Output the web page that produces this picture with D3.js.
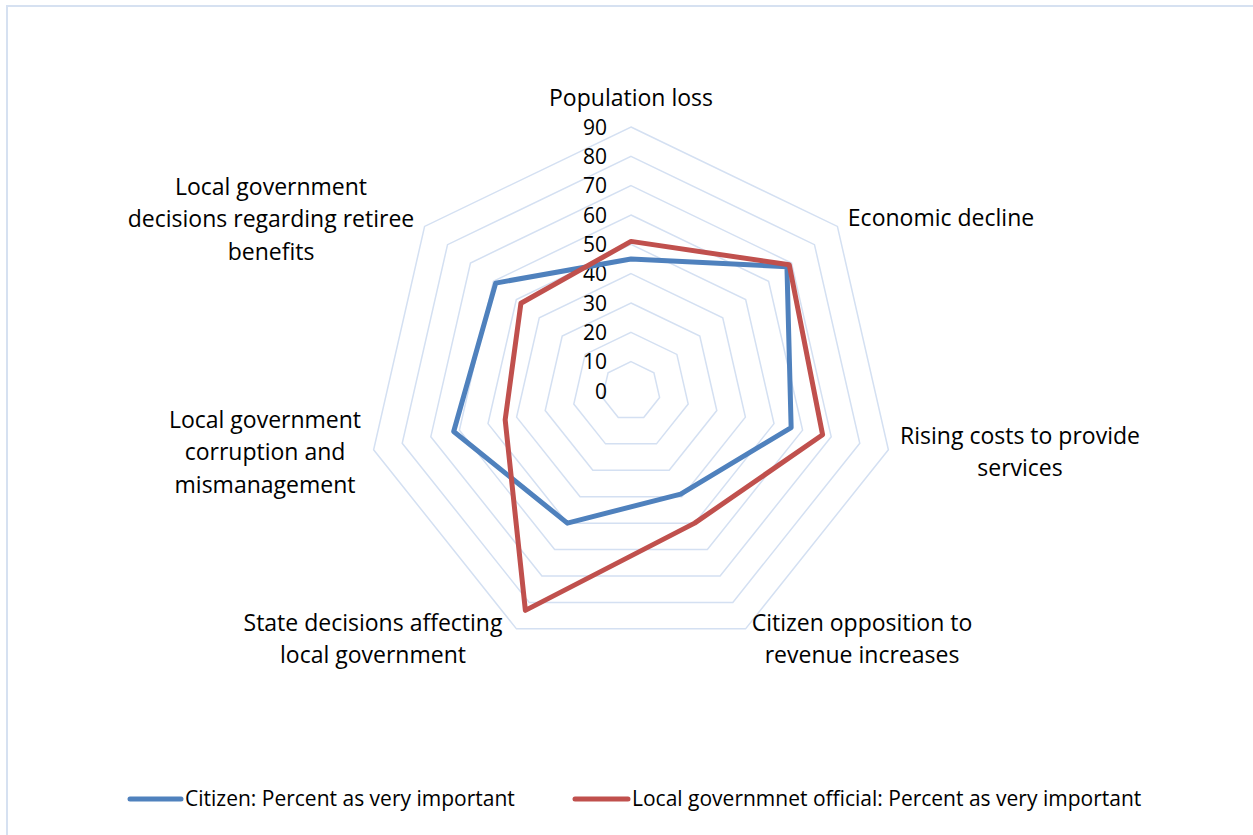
<!DOCTYPE html>
<html>
<head>
<meta charset="utf-8">
<script src="https://cdn.jsdelivr.net/npm/d3@7"></script>
<style>
  html, body { margin: 0; padding: 0; background: #fff; }
  svg { display: block; }
  text { font-family: "Open Sans", Lato, sans-serif; fill: #000; }
</style>
</head>
<body>
<svg id="chart" width="1253" height="835"></svg>
<script>
// Survey categories, clockwise from the top
const categories = [
  ["Population loss"],
  ["Economic decline"],
  ["Rising costs to provide", "services"],
  ["Citizen opposition to", "revenue increases"],
  ["State decisions affecting", "local government"],
  ["Local government", "corruption and", "mismanagement"],
  ["Local government", "decisions regarding retiree", "benefits"]
];
const citizen  = [45, 68, 56, 39, 50, 62, 59];
const official = [51, 69, 67, 50, 83, 44, 48];
const ticks = [0, 10, 20, 30, 40, 50, 60, 70, 80, 90];
const seriesNames = [
  "Citizen: Percent as very important",
  "Local governmnet official: Percent as very important"
];

const W = 1253, H = 835;
const cx = 631, cy = 391;
const svg = d3.select("#chart");

// Frame (top and left edges visible)
svg.append("rect")
  .attr("x", 7).attr("y", 6).attr("width", W + 20).attr("height", H + 20)
  .attr("fill", "none").attr("stroke", "#D6E1F1").attr("stroke-width", 2);

const r = d3.scaleLinear().domain([0, 90]).range([0, 264]);
const n = categories.length;
const angle = i => -Math.PI / 2 + i * 2 * Math.PI / n;
const pt = (i, v) => [cx + r(v) * Math.cos(angle(i)), cy + r(v) * Math.sin(angle(i))];

// Concentric heptagon grid
const ring = d3.line();
svg.append("g").selectAll("path")
  .data(ticks.filter(t => t > 0))
  .join("path")
  .attr("d", t => ring(d3.range(n).map(i => pt(i, t))) + "Z")
  .attr("fill", "none")
  .attr("stroke", "#D4E0F2")
  .attr("stroke-width", 1.5);

// Value labels along the top spoke
svg.append("g").selectAll("text")
  .data(ticks)
  .join("text")
  .attr("x", cx - 24)
  .attr("y", t => cy - r(t))
  .attr("dy", "0.36em")
  .attr("text-anchor", "end")
  .attr("font-size", 21)
  .text(t => t);

// Series outlines
const colors = ["#4F81BD", "#C0504D"];
[citizen, official].forEach((vals, s) => {
  svg.append("path")
    .attr("d", ring(vals.map((v, i) => pt(i, v))) + "Z")
    .attr("fill", "none")
    .attr("stroke", colors[s])
    .attr("stroke-width", 5)
    .attr("stroke-linejoin", "round");
});

// Category labels
const labelPos = [
  [631, 98], [941, 218], [1020, 436], [862, 623], [373, 623], [265, 420], [271, 187]
];
const lineGap = 32.3;
categories.forEach((lines, i) => {
  const t = svg.append("text")
    .attr("text-anchor", "middle")
    .attr("font-size", 23);
  lines.forEach((ln, j) => {
    t.append("tspan")
      .attr("x", labelPos[i][0])
      .attr("y", labelPos[i][1] + j * lineGap)
      .attr("dy", "0.35em")
      .text(ln);
  });
});

// Legend
const legend = [
  { x0: 130, x1: 181, tx: 185 },
  { x0: 575, x1: 628, tx: 632 }
];
legend.forEach((l, s) => {
  svg.append("line")
    .attr("x1", l.x0).attr("x2", l.x1)
    .attr("y1", 799).attr("y2", 799)
    .attr("stroke", colors[s]).attr("stroke-width", 5)
    .attr("stroke-linecap", "round");
  svg.append("text")
    .attr("x", l.tx).attr("y", 799)
    .attr("dy", "0.35em")
    .attr("font-size", 21)
    .text(seriesNames[s]);
});
</script>
</body>
</html>
